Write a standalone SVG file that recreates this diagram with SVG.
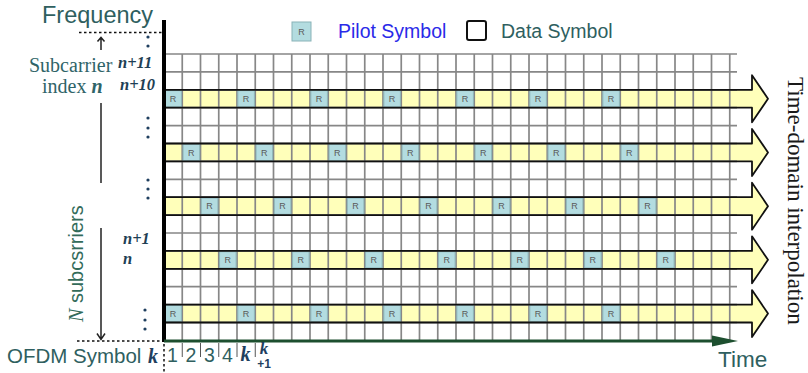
<svg xmlns="http://www.w3.org/2000/svg" width="808" height="373" viewBox="0 0 808 373">
<style>
.grid{stroke:#878787;stroke-width:1.7;fill:none}
.bandfill{fill:#FFFFBA;stroke:none}
.bandline{fill:none;stroke:#111;stroke-width:1.8;stroke-linejoin:round}
.pil{fill:#B3DCE0;stroke:#8AB3B8;stroke-width:1}
.rt{font-family:"Liberation Sans",Arial,sans-serif;font-size:9px;fill:#5a5a5a;text-anchor:middle}
.sans{font-family:"Liberation Sans",Arial,sans-serif}
.serif{font-family:"Liberation Serif","Times New Roman",serif}
.idx{font-family:"Liberation Serif","Times New Roman",serif;font-weight:bold;font-style:italic;font-size:16.5px;fill:#1F3F55}
.teal{fill:#2F5F5F}
.dot{fill:#1F3F5F}
.thin{stroke:#222;stroke-width:1.5;fill:none}
.dash{stroke:#111;stroke-width:1.5;stroke-dasharray:2.5 2.5;fill:none}
</style>
<defs>
<g id="p"><rect class="pil" x="0.8" y="0.8" width="16.6" height="16.3"/><text class="rt" x="9.1" y="12.3">R</text></g>
</defs>
<rect width="808" height="373" fill="#fff"/>
<g id="bands-fill">
<path class="bandfill" d="M164,89.8H752V75.25L768,98.75L752,122.25V107.7H164Z"/>
<path class="bandfill" d="M164,143.5H752V128.95L768,152.45L752,175.95V161.4H164Z"/>
<path class="bandfill" d="M164,197.2H752V182.65L768,206.15L752,229.65V215.1H164Z"/>
<path class="bandfill" d="M164,250.9H752V236.35L768,259.85L752,283.35V268.8H164Z"/>
<path class="bandfill" d="M164,304.6H752V290.05L768,313.55L752,337.05V322.5H164Z"/>
</g>
<g id="grid">
<path class="grid" d="M164,54H737M164,71.9H737M164,89.8H737M164,107.7H737M164,125.6H737M164,143.5H737M164,161.4H737M164,179.3H737M164,197.2H737M164,215.1H737M164,233H737M164,250.9H737M164,268.8H737M164,286.7H737M164,304.6H737M164,322.5H737"/>
<path class="grid" d="M182.25,54V340.4M200.5,54V340.4M218.75,54V340.4M237,54V340.4M255.25,54V340.4M273.5,54V340.4M291.75,54V340.4M310,54V340.4M328.25,54V340.4M346.5,54V340.4M364.75,54V340.4M383,54V340.4M401.25,54V340.4M419.5,54V340.4M437.75,54V340.4M456,54V340.4M474.25,54V340.4M492.5,54V340.4M510.75,54V340.4M529,54V340.4M547.25,54V340.4M565.5,54V340.4M583.75,54V340.4M602,54V340.4M620.25,54V340.4M638.5,54V340.4M656.75,54V340.4M675,54V340.4M693.25,54V340.4M711.5,54V340.4M729.75,54V340.4"/>
</g>
<g id="pilots">
<use href="#p" x="164" y="89.8"/><use href="#p" x="237" y="89.8"/><use href="#p" x="310" y="89.8"/><use href="#p" x="383" y="89.8"/><use href="#p" x="456" y="89.8"/><use href="#p" x="529" y="89.8"/><use href="#p" x="602" y="89.8"/>
<use href="#p" x="182.25" y="143.5"/><use href="#p" x="255.25" y="143.5"/><use href="#p" x="328.25" y="143.5"/><use href="#p" x="401.25" y="143.5"/><use href="#p" x="474.25" y="143.5"/><use href="#p" x="547.25" y="143.5"/><use href="#p" x="620.25" y="143.5"/>
<use href="#p" x="200.5" y="197.2"/><use href="#p" x="273.5" y="197.2"/><use href="#p" x="346.5" y="197.2"/><use href="#p" x="419.5" y="197.2"/><use href="#p" x="492.5" y="197.2"/><use href="#p" x="565.5" y="197.2"/><use href="#p" x="638.5" y="197.2"/>
<use href="#p" x="218.75" y="250.9"/><use href="#p" x="291.75" y="250.9"/><use href="#p" x="364.75" y="250.9"/><use href="#p" x="437.75" y="250.9"/><use href="#p" x="510.75" y="250.9"/><use href="#p" x="583.75" y="250.9"/><use href="#p" x="656.75" y="250.9"/>
<use href="#p" x="164" y="304.6"/><use href="#p" x="237" y="304.6"/><use href="#p" x="310" y="304.6"/><use href="#p" x="383" y="304.6"/><use href="#p" x="456" y="304.6"/><use href="#p" x="529" y="304.6"/><use href="#p" x="602" y="304.6"/>
</g>
<g id="bands-outline">
<path class="bandline" d="M164,89.8H752V75.25L768,98.75L752,122.25V107.7H164"/>
<path class="bandline" d="M164,143.5H752V128.95L768,152.45L752,175.95V161.4H164"/>
<path class="bandline" d="M164,197.2H752V182.65L768,206.15L752,229.65V215.1H164"/>
<path class="bandline" d="M164,250.9H752V236.35L768,259.85L752,283.35V268.8H164"/>
<path class="bandline" d="M164,304.6H752V290.05L768,313.55L752,337.05V322.5H164"/>
</g>
<g id="legend">
<rect class="pil" x="292" y="22" width="19" height="19" stroke-width="1.5"/>
<text class="rt" x="301.5" y="34.8">R</text>
<text class="sans" x="338" y="38" font-size="19.5" fill="#2A2AE8">Pilot Symbol</text>
<rect x="467" y="21" width="19" height="19" rx="2" fill="#fff" stroke="#111" stroke-width="2"/>
<text class="sans teal" x="501" y="38" font-size="19.5">Data Symbol</text>
</g>
<g id="connectors">
<line x1="164" y1="20" x2="164" y2="342" stroke="#000" stroke-width="4"/>
<line x1="164" y1="341" x2="716" y2="341" stroke="#1D4F2F" stroke-width="3"/>
<polygon points="712,335.5 738,341 712,346.5" fill="#1D4F2F"/>
<path class="dash" d="M79,32.5H162"/>
<path class="dash" d="M77,341H162"/>
<path class="dash" d="M164,344V373"/>
<path class="thin" d="M101,50V38M97.5,41.5L101,37.5L104.5,41.5"/>
<path class="thin" d="M101,103V183"/>
<path class="thin" d="M101,228V339M97,333.5L101,339.5L105,333.5"/>
<path stroke="#555" stroke-width="1" d="M182.25,343V357M200.5,343V357M218.75,343V357M237,343V357M255.25,343V357"/>
</g>
<g id="dots">
<circle class="dot" cx="148" cy="37" r="1.6"/><circle class="dot" cx="148" cy="46" r="1.6"/>
<circle class="dot" cx="148" cy="118" r="1.6"/><circle class="dot" cx="148" cy="128" r="1.6"/><circle class="dot" cx="148" cy="137" r="1.6"/>
<circle class="dot" cx="148" cy="180" r="1.6"/><circle class="dot" cx="148" cy="189" r="1.6"/><circle class="dot" cx="148" cy="198" r="1.6"/>
<circle class="dot" cx="145" cy="310" r="1.6"/><circle class="dot" cx="145" cy="320" r="1.6"/><circle class="dot" cx="145" cy="329" r="1.6"/>
</g>
<g id="labels">
<text class="sans teal" x="42" y="23" font-size="23.5">Frequency</text>
<text class="serif" x="29" y="72" font-size="20" fill="#2F6468">Subcarrier</text>
<text class="serif" x="42" y="93" font-size="20" fill="#2F6468">index <tspan font-weight="bold" font-style="italic">n</tspan></text>
<text x="0" y="0" transform="translate(83,322) rotate(-90)" font-size="20" fill="#336B5A"><tspan class="serif" font-style="italic">N</tspan><tspan class="sans"> subcsrriers</tspan></text>
<text class="idx" x="118" y="68">n+11</text>
<text class="idx" x="120" y="90">n+10</text>
<text class="idx" x="123" y="244">n+1</text>
<text class="idx" x="123" y="264">n</text>
<text class="sans teal" x="7" y="363" font-size="20.5">OFDM Symbol</text>
<text class="serif" x="148" y="363" font-size="20" font-weight="bold" font-style="italic" fill="#1F3F5F">k</text>
<text class="sans teal" font-size="19.5" text-anchor="middle" y="362"><tspan x="172.5">1</tspan><tspan x="191">2</tspan><tspan x="209.5">3</tspan><tspan x="227.5">4</tspan></text>
<text class="serif" x="245.5" y="361" font-size="20" font-weight="bold" font-style="italic" fill="#1F3F5F" text-anchor="middle">k</text>
<text class="serif" x="264" y="354" font-size="17" font-weight="bold" font-style="italic" fill="#1F3F5F" text-anchor="middle">k</text>
<text class="sans" x="264" y="368" font-size="12" font-weight="bold" fill="#1F3F5F" text-anchor="middle">+1</text>
<text class="sans teal" x="718" y="367" font-size="22.5">Time</text>
<text class="serif" x="0" y="0" transform="translate(788,77) rotate(90)" font-size="23" fill="#1a1a1a">Time-domain interpolation</text>
</g>
</svg>
